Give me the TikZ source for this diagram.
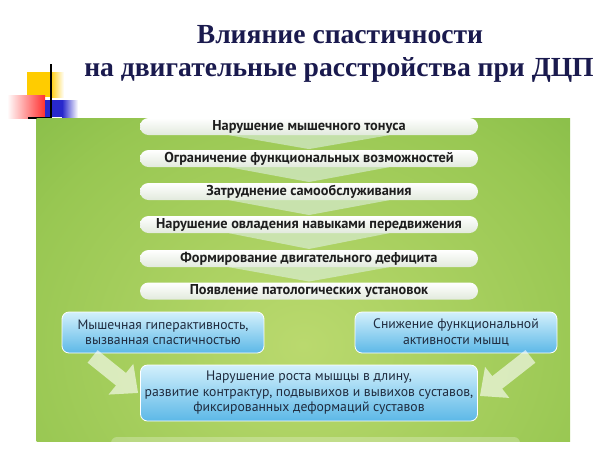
\documentclass[tikz,border=0pt]{standalone}
\usepackage{fontspec}
\setmainfont{Liberation Serif}
\newfontfamily\boxfont{PT Sans}
\usetikzlibrary{arrows.meta,calc}
\definecolor{titlecol}{HTML}{1A1A4E}
\definecolor{greenedge}{HTML}{72B03C}
\definecolor{greenmid}{HTML}{BAD96E}
\definecolor{greenhalf}{HTML}{98C752}
\definecolor{pillbot}{HTML}{E2EADD}
\definecolor{bluetop}{HTML}{D3F0FC}
\definecolor{bluebot}{HTML}{5CB8E7}
\definecolor{chevcol}{HTML}{E4F3EE}
\definecolor{txtdark}{HTML}{1E1E1E}
\definecolor{txtblue}{HTML}{1F2B3E}
\definecolor{decoyellow}{HTML}{FFCC00}
\definecolor{decored}{HTML}{FF3030}
\definecolor{decoblue}{HTML}{2828CC}
\pgfdeclareradialshading{greenglow}{\pgfpoint{0bp}{0bp}}{color(0bp)=(greenmid); color(28bp)=(greenhalf); color(50bp)=(greenedge); color(72bp)=(greenedge)}
\tikzset{
  pill/.style={rounded corners=8.5pt, top color=white, bottom color=pillbot,
    minimum width=338pt, minimum height=17pt, inner sep=0pt,
    font=\boxfont\bfseries\fontsize{14.3}{15}\selectfont, text=txtdark},
  bluebox/.style={rounded corners=7pt, top color=bluetop, bottom color=bluebot,
    draw=white, line width=0.8pt, inner sep=0pt, align=center,
    font=\boxfont\fontsize{13.7}{15.5}\selectfont, text=txtblue},
  chev/.style={fill=chevcol, fill opacity=0.55},
  bigarrow/.style={draw=white, line width=16pt,
    -{Triangle[width=38pt,length=22pt]}},
  titletext/.style={font=\bfseries\fontsize{27.6}{32}\selectfont, text=titlecol}
}
\begin{document}
\begin{tikzpicture}[x=1pt,y=-1pt]
\useasboundingbox (0,0) rectangle (610,456);
\fill[white] (0,0) rectangle (610,456);
% decoration
\fill[decoyellow] (27,72) rectangle (50,97);
\shade[left color=decoyellow, right color=white] (50,72) rectangle (64,97);
\shade[left color=white, right color=decored] (7,95) rectangle (45,118);
\fill[decoblue] (45,100) rectangle (62,117);
\shade[left color=decoblue, right color=white] (62,100) rectangle (78,117);
\draw[black, line width=1.6pt] (51,64) -- (51,119);
\draw[black, line width=1.6pt] (28,118) -- (51,118);
% title
\node[titletext] (t1) at (340,35) {Влияние спастичности};
\node[titletext] (t2) at (339,70) {на двигательные расстройства при ДЦП};
% green panel
\begin{scope}
\clip (36.5,118) rectangle (570,441);
\shade[shading=greenglow] (36.5,118) rectangle (570,572);
\fill[white, opacity=0.25, rounded corners=6pt] (111,437) rectangle (520,460);
\end{scope}
% pills
\node[pill] (b1) at (309,126.5) {Нарушение мышечного тонуса};
\node[pill] (b2) at (309,158.5) {Ограничение функциональных возможностей};
\node[pill] (b3) at (309,191.5) {Затруднение самообслуживания};
\node[pill] (b4) at (309,224.5) {Нарушение овладения навыками передвижения};
\node[pill] (b5) at (309,258.5) {Формирование двигательного дефицита};
\node[pill] (b6) at (309,291) {Появление патологических установок};
% chevrons
\foreach \a/\b in {b1/b2,b2/b3,b3/b4,b4/b5,b5/b6}{
  \fill[chev] ($(\a.south)+(-80,0)$) -- ($(\a.south)+(80,0)$) -- ($(\a.south)!0.95!(\b.north)$) -- cycle;
}
% blue boxes
\node[bluebox, minimum width=202pt, minimum height=41pt] (lb) at (163,332.5)
  {Мышечная гиперактивность,\\вызванная спастичностью};
\node[bluebox, minimum width=202pt, minimum height=41pt] (rb) at (456,332.5)
  {Снижение функциональной\\активности мышц};
\node[bluebox, minimum width=337pt, minimum height=56pt] (cb) at (309,393)
  {Нарушение роста мышцы в длину,\\развитие контрактур, подвывихов и вывихов суставов,\\фиксированных деформаций суставов};
% big arrows
\coordinate (lt) at ($(lb.south west)+(31,3)$);
\coordinate (rt) at ($(rb.south east)+(-27,3)$);
\begin{scope}[transparency group, opacity=0.6]
\draw[bigarrow] (lt) -- ($(cb.west)+(-2,0)$);
\draw[bigarrow] (rt) -- ($(cb.east)+(2,3)$);
\end{scope}
\end{tikzpicture}
\end{document}
